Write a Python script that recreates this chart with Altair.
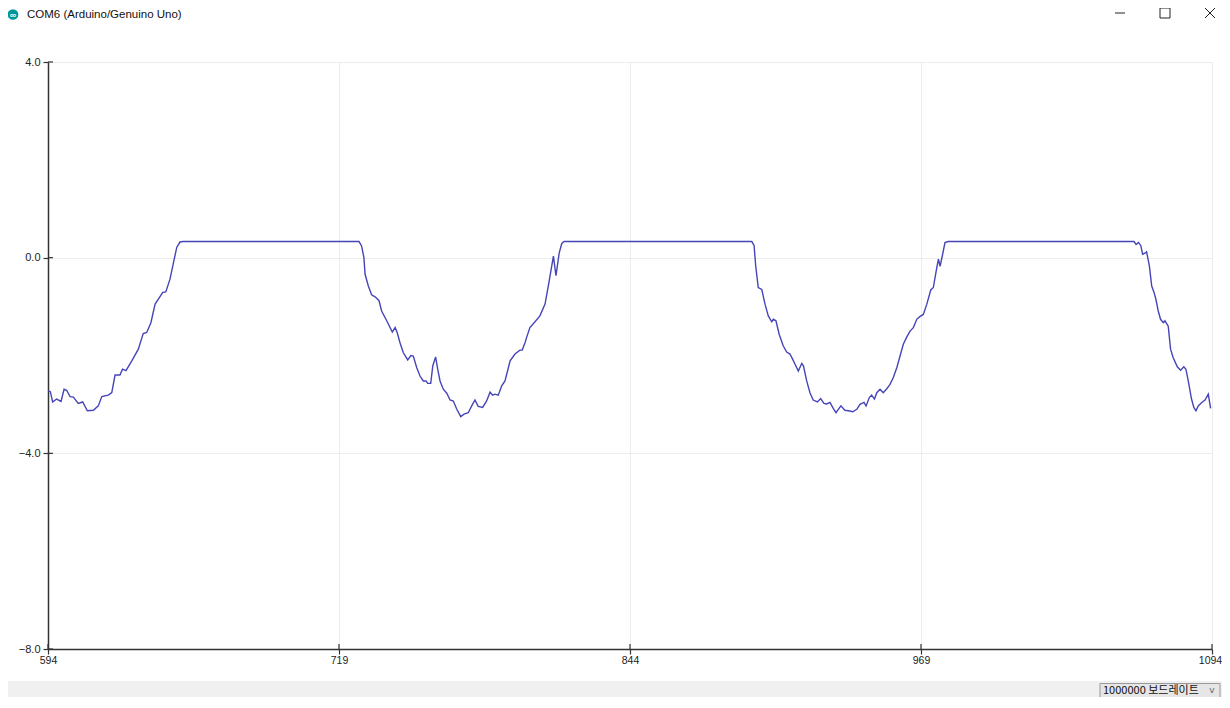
import altair as alt
import pandas as pd

# ---- data ----
xs = [594.0, 595.0, 596.0, 597.7, 599.6, 600.9, 602.0, 603.5, 604.9, 607.0, 608.9, 610.9, 613.5, 615.6,
      617.1, 619.9, 621.4, 622.8, 624.9, 626.0, 627.5, 630.0, 632.8, 634.9, 636.4, 638.2, 640.0, 643.3,
      644.6, 646.4, 649.3, 650.7, 652.1, 727.6, 728.7, 729.7, 730.2, 731.6, 733.0, 734.5, 736.2, 737.3,
      739.5, 741.9, 743.1, 744.0, 745.2, 746.6, 748.5, 749.9, 750.9, 752.4, 753.8, 755.2, 756.4, 757.1,
      758.4, 759.3, 760.5, 761.4, 762.4, 763.8, 765.3, 766.7, 768.1, 769.6, 771.3, 772.7, 774.5, 776.0,
      777.4, 778.8, 780.7, 782.4, 783.9, 785.0, 786.0, 787.4, 788.9, 790.3, 792.5, 794.6, 796.7, 797.7,
      798.9, 799.6, 801.0, 803.2, 805.3, 807.5, 808.9, 811.1, 812.2, 813.6, 814.7, 815.7, 896.3, 897.3,
      898.0, 899.1, 900.6, 902.0, 903.4, 904.9, 905.6, 906.7, 908.1, 909.8, 911.3, 912.7, 913.9, 914.9,
      916.3, 917.8, 918.5, 919.9, 921.3, 922.7, 924.5, 925.9, 927.3, 928.5, 929.9, 931.3, 932.5, 933.5,
      934.6, 936.3, 937.8, 939.7, 941.4, 942.8, 944.5, 945.4, 946.8, 947.8, 949.0, 950.0, 951.4, 952.8,
      954.3, 955.7, 957.1, 958.6, 960.0, 961.4, 962.8, 964.3, 965.7, 967.2, 968.6, 970.0, 971.5, 973.2,
      974.3, 975.8, 976.5, 977.2, 978.3, 979.3, 980.7, 1060.5, 1061.4, 1062.4, 1063.4, 1064.2, 1065.2,
      1065.9, 1067.1, 1068.1, 1069.1, 1069.9, 1070.9, 1071.9, 1073.1, 1073.8, 1075.2, 1076.2, 1077.3,
      1079.1, 1080.5, 1081.9, 1082.8, 1083.8, 1085.2, 1086.2, 1087.1, 1088.1, 1089.6, 1091.0, 1092.4,
      1093.4]
ys = [-2.72, -2.74, -2.95, -2.89, -2.94, -2.69, -2.71, -2.84, -2.85, -2.98, -2.95, -3.13, -3.12, -3.03,
      -2.84, -2.81, -2.76, -2.40, -2.40, -2.28, -2.31, -2.11, -1.87, -1.55, -1.53, -1.33, -0.95, -0.71,
      -0.70, -0.44, 0.21, 0.32, 0.33, 0.33, 0.24, 0.00, -0.34, -0.58, -0.76, -0.80, -0.88, -1.09,
      -1.29, -1.52, -1.43, -1.53, -1.74, -1.94, -2.09, -2.00, -2.01, -2.25, -2.42, -2.52, -2.52, -2.57,
      -2.57, -2.21, -2.03, -2.28, -2.52, -2.69, -2.77, -2.91, -2.93, -3.10, -3.25, -3.20, -3.17, -3.03,
      -2.91, -3.04, -3.06, -2.93, -2.75, -2.81, -2.79, -2.81, -2.62, -2.52, -2.11, -1.97, -1.89, -1.89,
      -1.74, -1.63, -1.43, -1.31, -1.19, -0.95, -0.58, 0.03, -0.37, 0.10, 0.29, 0.33, 0.33, 0.25,
      -0.17, -0.61, -0.65, -0.95, -1.19, -1.31, -1.26, -1.29, -1.57, -1.80, -1.93, -1.97, -2.08, -2.18,
      -2.32, -2.16, -2.21, -2.52, -2.76, -2.91, -2.95, -2.88, -2.98, -2.99, -2.96, -3.08, -3.17, -3.10,
      -3.03, -3.12, -3.13, -3.15, -3.10, -3.00, -2.96, -3.03, -2.86, -2.81, -2.89, -2.76, -2.69, -2.76,
      -2.68, -2.59, -2.45, -2.25, -2.01, -1.77, -1.63, -1.50, -1.43, -1.26, -1.20, -1.16, -0.95, -0.66,
      -0.61, -0.20, -0.03, -0.18, 0.07, 0.31, 0.33, 0.33, 0.27, 0.31, 0.25, 0.07, 0.09,
      0.12, -0.17, -0.58, -0.71, -0.85, -1.09, -1.26, -1.33, -1.29, -1.40, -1.87, -2.04,
      -2.23, -2.30, -2.23, -2.28, -2.52, -2.89, -3.06, -3.13, -3.03, -2.96, -2.91, -2.79,
      -3.08]

x_ticks = [594, 719, 844, 969, 1094]
y_ticks = [4.0, 0.0, -4.0, -8.0]
window_title = "COM6 (Arduino/Genuino Uno)"
baud_label = "1000000 보드레이트"

W, H = 1164, 587
LABEL_FONT = "Liberation Sans"

xscale = alt.Scale(domain=[594, 1094], nice=False, zero=False)
yscale = alt.Scale(domain=[-8, 4], nice=False, zero=False)

df = pd.DataFrame({"x": xs, "y": ys})

line = alt.Chart(df).mark_line(color="#4545b8", strokeWidth=1.4, interpolate="linear").encode(
    x=alt.X("x:Q", scale=xscale,
            axis=alt.Axis(values=x_ticks, format="d", title=None, grid=True, gridColor="#ececec",
                          labelFlush=False, labelOverlap=False, tickSize=5, labelPadding=1,
                          labelFontSize=10.5, labelColor="#222", labelFont=LABEL_FONT,
                          labelOffset={"condition": {"test": "datum.value == 1094", "value": -2},
                                       "value": 0},
                          domainColor="#333", domainWidth=1.5, tickColor="#333", tickWidth=1.2)),
    y=alt.Y("y:Q", scale=yscale,
            axis=alt.Axis(values=y_ticks, format=".1f", title=None, grid=True, gridColor="#ececec",
                          labelFlush=False, labelOverlap=False, tickSize=5, labelPadding=3,
                          labelFontSize=11, labelColor="#222", labelFont=LABEL_FONT,
                          domainColor="#333", domainWidth=1.5, tickColor="#333", tickWidth=1.2)),
)

# inner halves of the crossing tick marks
ytk = alt.Chart(pd.DataFrame({"y": y_ticks})).mark_rule(color="#333", strokeWidth=1.2).encode(
    y=alt.Y("y:Q", scale=yscale), x=alt.value(0), x2=alt.value(5))
xtk = alt.Chart(pd.DataFrame({"x": x_ticks})).mark_rule(color="#333", strokeWidth=1.2).encode(
    x=alt.X("x:Q", scale=xscale), y=alt.value(H - 5), y2=alt.value(H))

one = pd.DataFrame({"t": [window_title]})
title = alt.Chart(one).mark_text(align="left", baseline="top", font="Liberation Sans", fontSize=11.5,
                                 color="#111").encode(x=alt.value(-21), y=alt.value(-53.5), text="t:N")
icon = alt.Chart(one).mark_point(filled=True, shape="circle", size=115, color="#00979c",
                                 opacity=1).encode(x=alt.value(-35), y=alt.value(-47.5))
icon_txt = alt.Chart(pd.DataFrame({"t": ["∞"]})).mark_text(fontSize=9, color="white",
                                                           fontWeight="bold").encode(
    x=alt.value(-35), y=alt.value(-47.5), text="t:N")

minimize = alt.Chart(one).mark_rule(color="#222", strokeWidth=1).encode(
    x=alt.value(1067), x2=alt.value(1077), y=alt.value(-49))
maximize = alt.Chart(one).mark_rect(fill="white", stroke="#222", strokeWidth=1).encode(
    x=alt.value(1112), x2=alt.value(1122), y=alt.value(-54), y2=alt.value(-44))
close1 = alt.Chart(one).mark_rule(color="#222", strokeWidth=1).encode(
    x=alt.value(1157), x2=alt.value(1167), y=alt.value(-54), y2=alt.value(-44))
close2 = alt.Chart(one).mark_rule(color="#222", strokeWidth=1).encode(
    x=alt.value(1157), x2=alt.value(1167), y=alt.value(-44), y2=alt.value(-54))

bar = alt.Chart(one).mark_rect(fill="#f0f0f0").encode(
    x=alt.value(-40), x2=alt.value(1174), y=alt.value(619), y2=alt.value(645))
box = alt.Chart(one).mark_rect(fill="#e6e6e6", stroke="#999", strokeWidth=1).encode(
    x=alt.value(1052), x2=alt.value(1172), y=alt.value(621.5), y2=alt.value(635.5))
baud = alt.Chart(pd.DataFrame({"t": [baud_label]})).mark_text(
    align="left", baseline="middle", font="Noto Sans CJK KR", fontSize=11, color="#111").encode(
    x=alt.value(1055), y=alt.value(628.5), text="t:N")
chev = alt.Chart(pd.DataFrame({"t": ["v"]})).mark_text(
    align="center", baseline="middle", font="DejaVu Sans", fontSize=9, color="#666").encode(
    x=alt.value(1164), y=alt.value(628), text="t:N")

chart = alt.layer(bar, box, baud, chev, line, ytk, xtk, title, icon, icon_txt,
                  minimize, maximize, close1, close2).properties(
    width=W, height=H,
    autosize=alt.AutoSizeParams(type="none"),
    padding={"left": 40, "top": 54, "right": 10, "bottom": 48},
    background="white",
).configure_view(strokeWidth=0)

chart.save("out.html", embed_options={"renderer": "svg", "actions": False})
